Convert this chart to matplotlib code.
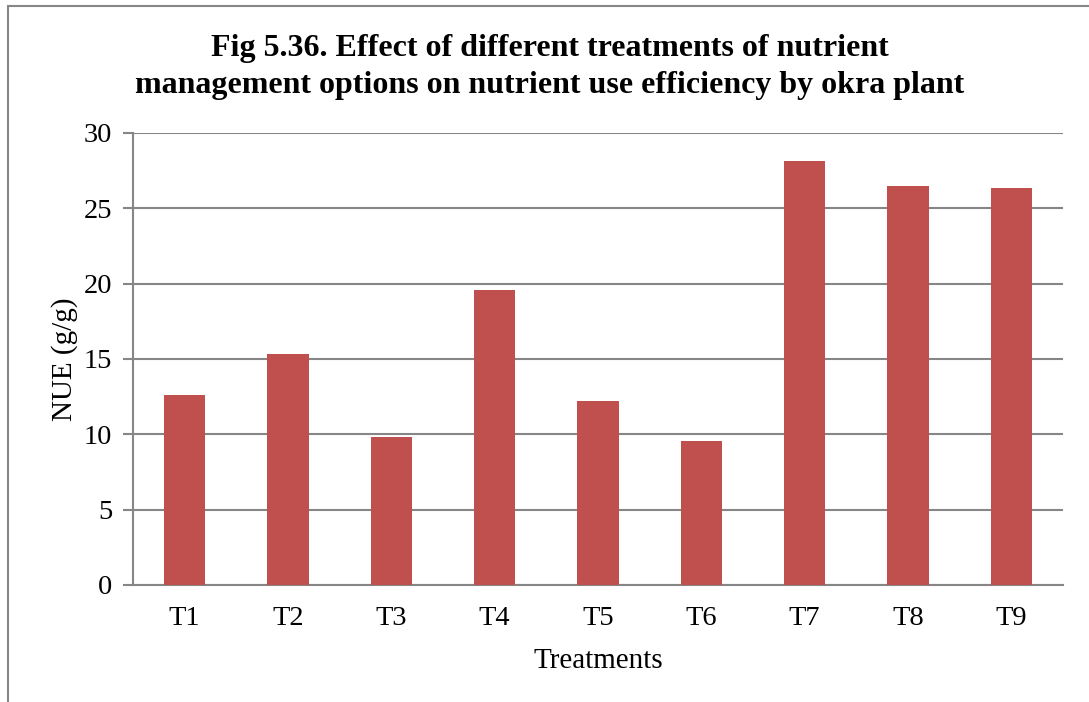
import matplotlib
matplotlib.use('Agg')
import matplotlib.pyplot as plt
from matplotlib.patches import Rectangle

treatments = ['T1', 'T2', 'T3', 'T4', 'T5', 'T6', 'T7', 'T8', 'T9']
nue = [12.6, 15.33, 9.82, 19.57, 12.2, 9.55, 28.13, 26.45, 26.38]

plt.rcParams['font.family'] = ['Liberation Serif', 'DejaVu Serif']

fig = plt.figure(figsize=(10.89, 7.02), dpi=100)
ax = fig.add_axes([133 / 1089, 1 - 585 / 702, (1063 - 133) / 1089, (585 - 133) / 702])

# outer chart frame (only left and top are visible in the picture)
fig.patches.append(Rectangle((8 / 1089, -0.05), 1.2, 1 - 6 / 702 + 0.05,
                             transform=fig.transFigure, fill=False,
                             edgecolor='#868686', linewidth=1.5))

x = range(len(treatments))
ax.bar(x, nue, width=0.4, color='#c0504d', zorder=3)

ax.set_xlim(-0.5, len(treatments) - 0.5)
ax.set_ylim(0, 30)
ax.set_yticks(range(0, 31, 5))
ax.set_xticks(list(x))
ax.set_xticklabels(treatments)
ax.yaxis.grid(True, color='#868686', linewidth=1.5, zorder=0)

for s in ['top', 'right']:
    ax.spines[s].set_visible(False)
for s in ['left', 'bottom']:
    ax.spines[s].set_color('#868686')
    ax.spines[s].set_linewidth(1.5)

ax.tick_params(axis='y', length=7, width=1.5, color='#868686', labelsize=20.5, pad=8)
ax.tick_params(axis='x', length=0, labelsize=20.5, pad=15)

ax.set_xlabel('Treatments', fontsize=21, labelpad=12)
ax.set_ylabel('NUE (g/g)', fontsize=21, labelpad=4)

fig.text(0.505, 0.905, 'Fig 5.36. Effect of different treatments of nutrient\n'
         'management options on nutrient use efficiency by okra plant',
         ha='center', va='center', fontsize=23, fontweight='bold', linespacing=1.38)

fig.savefig('out.png', dpi=100)
